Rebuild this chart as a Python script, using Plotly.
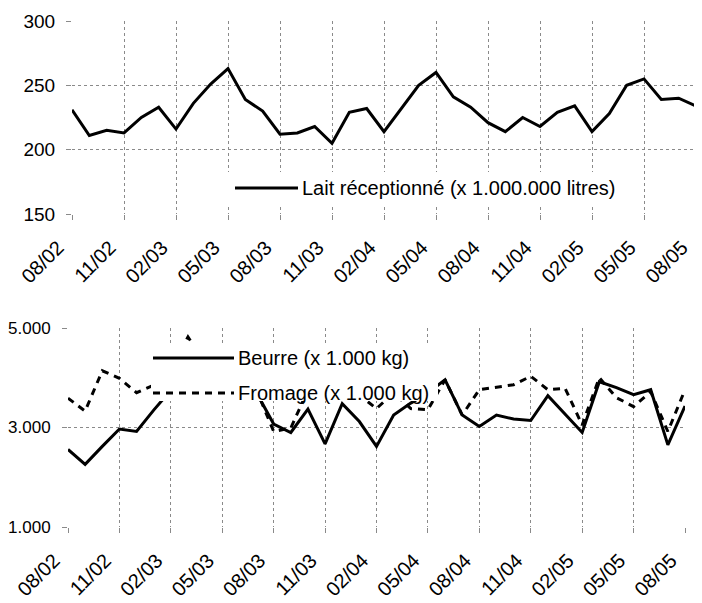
import plotly.graph_objects as go

months = ["08/02", "09/02", "10/02", "11/02", "12/02",
          "01/03", "02/03", "03/03", "04/03", "05/03", "06/03", "07/03", "08/03", "09/03", "10/03", "11/03", "12/03",
          "01/04", "02/04", "03/04", "04/04", "05/04", "06/04", "07/04", "08/04", "09/04", "10/04", "11/04", "12/04",
          "01/05", "02/05", "03/05", "04/05", "05/05", "06/05", "07/05", "08/05"]
tick_labels = months[::3]

lait = [231, 211, 215, 213, 225,
        233, 216, 236, 251, 263, 239, 230, 212, 213, 218, 205, 229,
        232, 214, 232, 250, 260, 241, 233, 221, 214, 225, 218, 229,
        234, 214, 228, 250, 255, 239, 240, 234]

beurre = [2560, 2260, 2620, 2970, 2920,
          3350, 3750, 4000, 4050, 3900, 3800, 3700, 3070, 2900, 3370, 2670, 3480,
          3120, 2620, 3250, 3490, 3700, 3960, 3250, 3020, 3250, 3170, 3140, 3640,
          3270, 2900, 3920, 3800, 3660, 3760, 2650, 3430]

fromage = [3590, 3330, 4140, 3990, 3700,
           3850, 4200, 4820, 4300, 4000, 3900, 3750, 2920, 2990, 3750, 3700, 3750,
           3650, 3380, 3700, 3380, 3360, 3960, 3250, 3760, 3810, 3860, 4030, 3760,
           3790, 3050, 4000, 3600, 3420, 3720, 2920, 3760]

names = ["Lait réceptionné (x 1.000.000 litres)", "Beurre (x 1.000 kg)", "Fromage (x 1.000 kg)"]

FONT = "Liberation Sans, Arial, sans-serif"
OFF = 8                      # page body margin
W, H = 702 - OFF, 603 - OFF  # figure size
DASH = "7px,6px"

def fx(sx):
    return (sx - OFF) / W

def fy(sy):
    return 1 - (sy - OFF) / H

fig = go.Figure()
fig.add_trace(go.Scatter(x=months, y=lait, mode="lines", name=names[0],
                         line=dict(color="black", width=3), xaxis="x", yaxis="y"))
fig.add_trace(go.Scatter(x=months, y=beurre, mode="lines", name=names[1],
                         line=dict(color="black", width=3), xaxis="x2", yaxis="y2"))
fig.add_trace(go.Scatter(x=months, y=fromage, mode="lines", name=names[2],
                         line=dict(color="black", width=3, dash=DASH), xaxis="x2", yaxis="y2"))

grid = dict(showgrid=True, gridcolor="#8a8a8a", gridwidth=1, griddash="dot",
            ticks="outside", ticklen=5, tickcolor="#8a8a8a", showline=False, zeroline=False)

def xax(domain, anchor):
    return dict(domain=domain, anchor=anchor, type="category", categoryorder="array",
                categoryarray=months, tickmode="array", tickvals=tick_labels, ticktext=tick_labels,
                range=[0, len(months) - 1], tickangle=-45, ticklabelshift=-14, ticklabelstandoff=8,
                tickfont=dict(family=FONT, size=20, color="black"), automargin=False, **grid)

shapes = []
annotations = []

def legend_box(x0, y0, x1, y1):
    shapes.append(dict(type="rect", xref="paper", yref="paper", x0=fx(x0), x1=fx(x1), y0=fy(y1), y1=fy(y0),
                       fillcolor="white", line=dict(width=0), layer="above"))

def legend_item(x0, x1, y, text, dash="solid"):
    shapes.append(dict(type="line", xref="paper", yref="paper", x0=fx(x0), x1=fx(x1), y0=fy(y), y1=fy(y),
                       line=dict(color="black", width=3, dash=dash), layer="above"))
    annotations.append(dict(text=text, xref="paper", yref="paper", x=fx(x1 + 2), y=fy(y), xanchor="left",
                            yanchor="middle", showarrow=False, font=dict(family=FONT, size=20, color="black")))

legend_box(228, 172, 628, 205)
legend_item(235, 298, 188, names[0])
legend_box(151, 343, 438, 401)
legend_item(153, 234, 358, names[1])
legend_item(153, 234, 393, names[2], DASH)

fig.update_layout(
    width=W, height=H,
    margin=dict(l=0, r=0, t=0, b=0),
    paper_bgcolor="white", plot_bgcolor="white",
    font=dict(family=FONT, color="black"),
    showlegend=False,
    xaxis=xax([fx(72), fx(696)], "y"),
    xaxis2=xax([fx(68), fx(685)], "y2"),
    yaxis=dict(domain=[fy(214), fy(21)], anchor="x", range=[150, 300], tickvals=[150, 200, 250, 300],
               ticklabelstandoff=7,
               tickfont=dict(family=FONT, size=19, color="black"), automargin=False, **grid),
    yaxis2=dict(domain=[fy(527), fy(328)], anchor="x2", range=[1000, 5000],
                tickvals=[1000, 3000, 5000], ticktext=["1.000", "3.000", "5.000"], ticklabelstandoff=8,
                tickfont=dict(family=FONT, size=17, color="black"), automargin=False, **grid),
    shapes=shapes,
    annotations=annotations,
)

fig.write_html("out.html")
